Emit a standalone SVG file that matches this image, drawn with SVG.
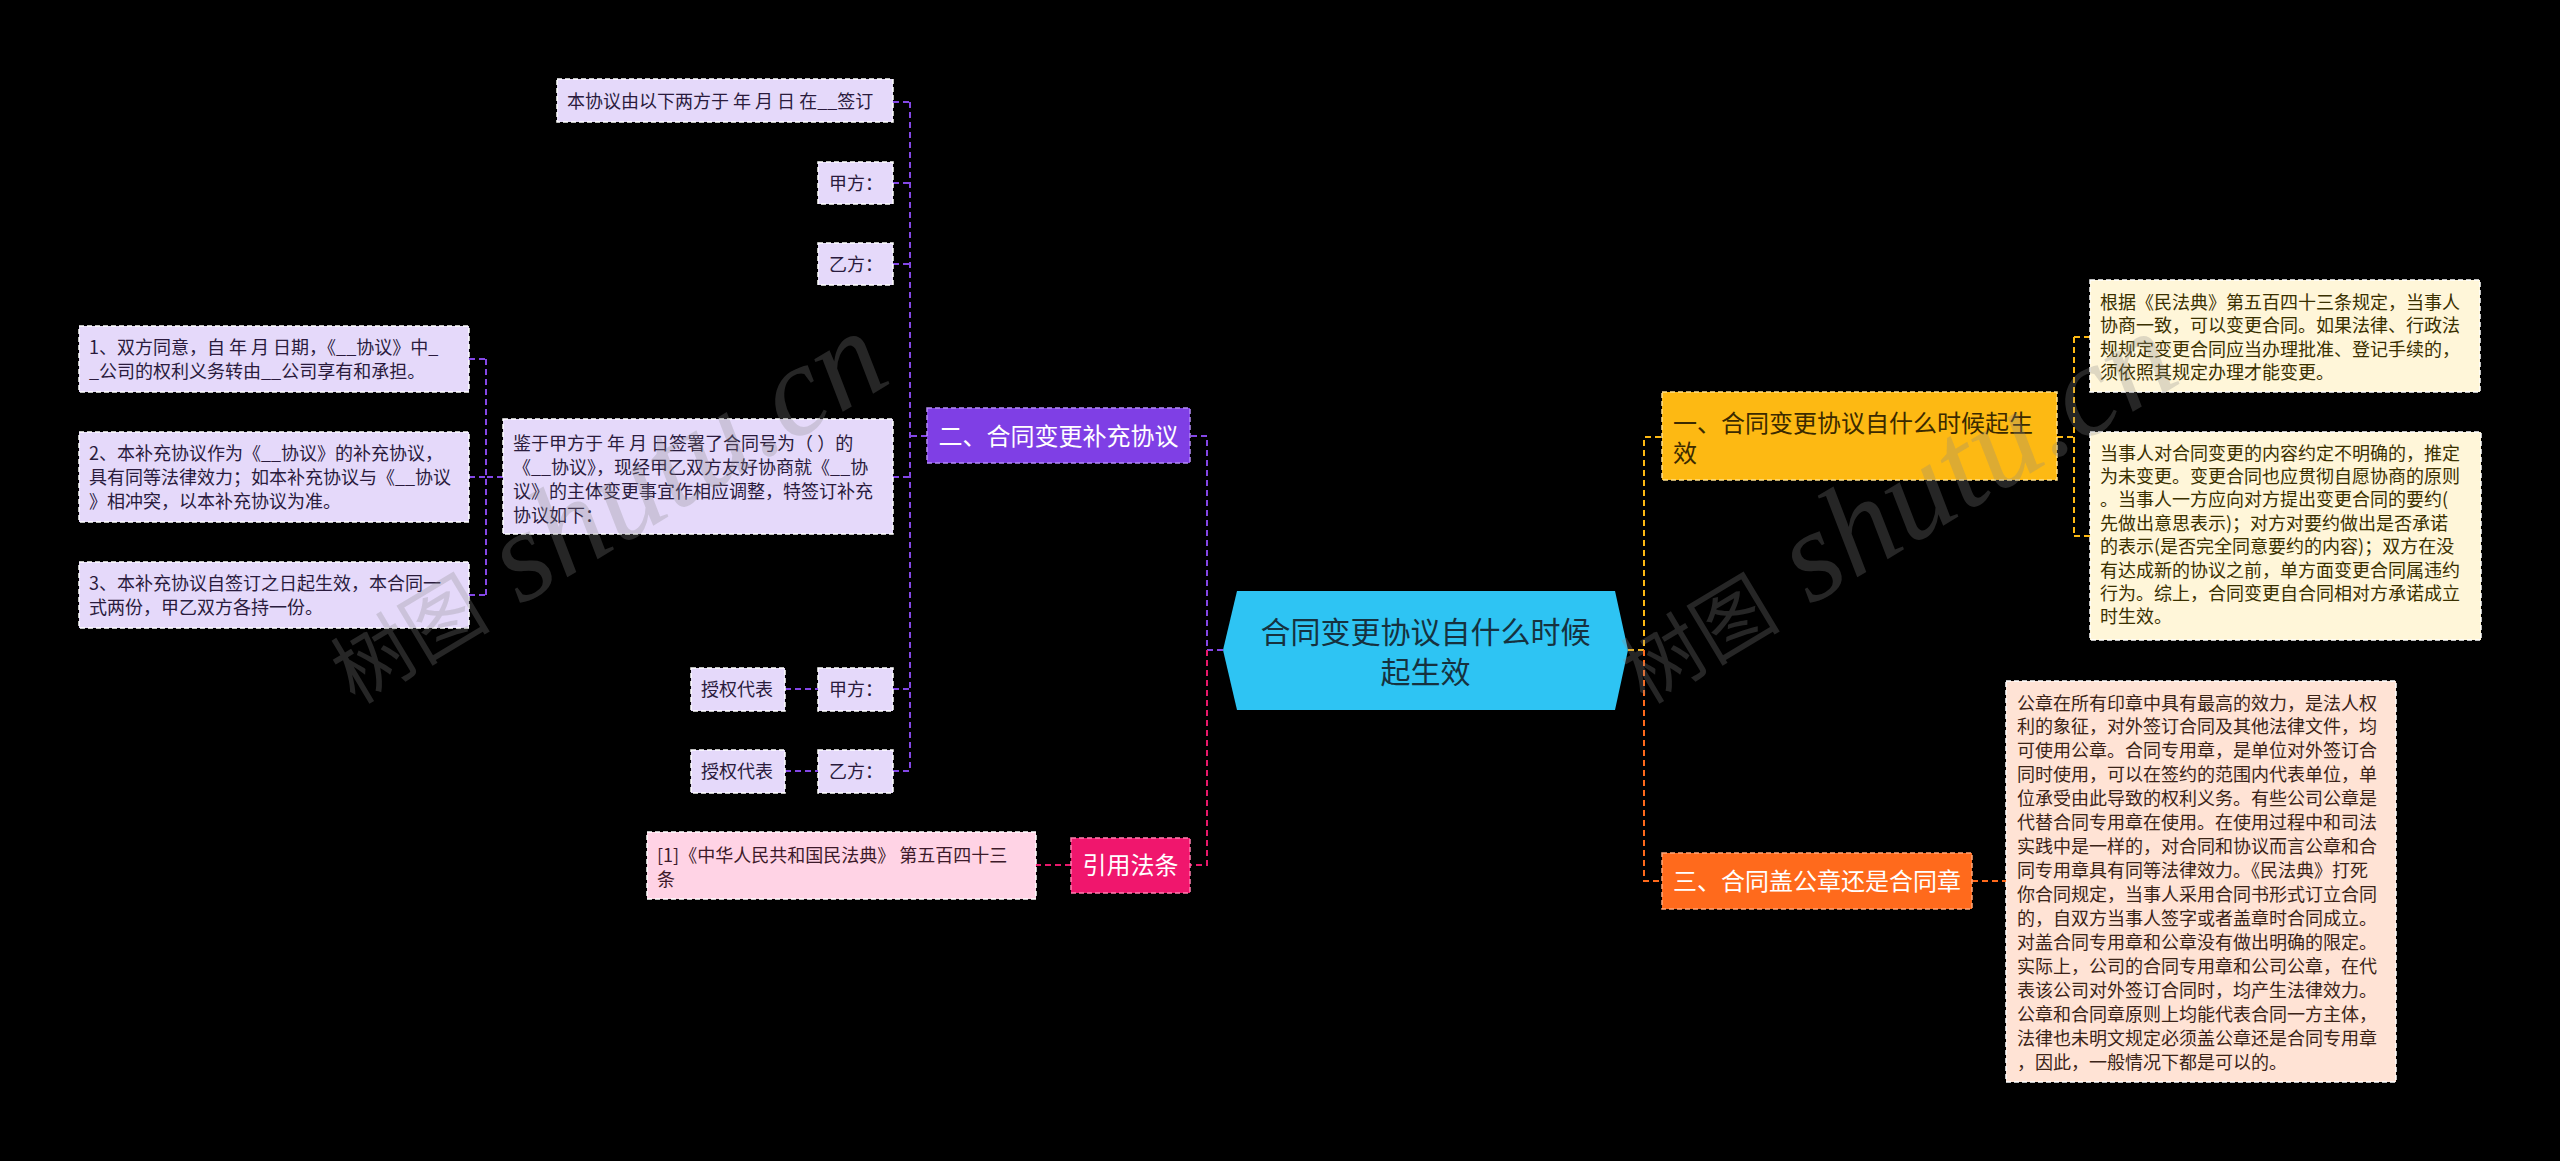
<svg xmlns="http://www.w3.org/2000/svg" width="2560" height="1161" viewBox="0 0 2560 1161">
<style>
text{font-family:"Noto Sans CJK SC","Noto Sans",sans-serif;}
.lp{fill:#E5D9FA;stroke:#ffffff;stroke-width:1.5;stroke-dasharray:5 3;}
.lpt{fill:#2a1b3d;font-size:18px;}
.cr{fill:#FFF6D9;stroke:#ffffff;stroke-width:1.5;stroke-dasharray:5 3;}
.crt{fill:#3a3000;font-size:18px;}
.pc{fill:#FFE3D5;stroke:#ffffff;stroke-width:1.5;stroke-dasharray:5 3;}
.pct{fill:#3b2418;font-size:18px;}
.pk{fill:#FFD3E5;stroke:#ffffff;stroke-width:1.5;stroke-dasharray:5 3;}
.pkt{fill:#3d1a2a;font-size:18px;}
.mt{font-size:24px;}
.c{fill:none;stroke-width:2;stroke-dasharray:6 4;}
.wm{font-family:"Liberation Serif","Noto Sans CJK SC",serif;font-style:italic;font-size:130px;fill:#8a8a8a;fill-opacity:0.28;}
.wmc{font-family:"Noto Sans CJK SC",sans-serif;font-style:normal;font-size:80px;}
</style>
<rect width="2560" height="1161" fill="#000"/>
<g id="connectors">
<path class="c" stroke="#8447E6" d="M1223,650H1207V436H1190"/>
<path class="c" stroke="#8447E6" d="M927,436H910M910,102V771M893,102H910M893,183H910M893,264H910M893,477H910M893,689H910M893,771H910"/>
<path class="c" stroke="#8447E6" d="M503,477H486M486,359V595M469,359H486M469,477H486M469,595H486"/>
<path class="c" stroke="#8447E6" d="M785,689H818M785,771H818"/>
<path class="c" stroke="#E8196B" d="M1207,650V865H1190M1071,865H1036"/>
<path class="c" stroke="#FDB913" d="M1628,650H1644V437H1662M2057,437H2074M2074,337V536M2074,337H2090M2074,536H2090"/>
<path class="c" stroke="#FF6A1C" d="M1644,650V881H1662M1972,881H2006"/>
</g>
<g id="root">
<polygon points="1223,650 1237,591 1615,591 1628,650 1615,710 1237,710" fill="#2EC4F3"/>
<text x="1425.5" y="643" font-size="30" fill="#16323F" text-anchor="middle">合同变更协议自什么时候</text>
<text x="1425.5" y="683" font-size="30" fill="#16323F" text-anchor="middle">起生效</text>
</g>
<g id="n2">
<rect x="927" y="408" width="263" height="55" fill="#7F3FE5" stroke="#b48cf5" stroke-width="1.5" stroke-dasharray="5 3"/>
<text class="mt" x="1058.5" y="445" fill="#ffffff" text-anchor="middle">二、合同变更补充协议</text>
</g>
<g id="n2a">
<rect class="lp" x="557" y="79" width="336" height="43"/>
<text class="lpt" x="567" y="107.5">本协议由以下两方于 年 月 日 在__签订</text>
</g>
<g id="n2b">
<rect class="lp" x="818" y="162" width="75" height="42"/>
<text class="lpt" x="829" y="189.5">甲方：</text>
</g>
<g id="n2c">
<rect class="lp" x="818" y="243" width="75" height="42"/>
<text class="lpt" x="829" y="270.5">乙方：</text>
</g>
<g id="n2d">
<rect class="lp" x="503" y="419" width="390" height="115"/>
<text class="lpt" x="513" y="449.5">鉴于甲方于 年 月 日签署了合同号为（ ）的</text>
<text class="lpt" x="513" y="473.5">《__协议》，现经甲乙双方友好协商就《__协</text>
<text class="lpt" x="513" y="497.5">议》的主体变更事宜作相应调整，特签订补充</text>
<text class="lpt" x="513" y="521.5">协议如下：</text>
</g>
<g id="n2d1">
<rect class="lp" x="79" y="326" width="390" height="66"/>
<text class="lpt" x="89" y="353.5">1、双方同意，自 年 月 日期，《__协议》中_</text>
<text class="lpt" x="89" y="377.5">_公司的权利义务转由__公司享有和承担。</text>
</g>
<g id="n2d2">
<rect class="lp" x="79" y="432" width="390" height="90"/>
<text class="lpt" x="89" y="459.5">2、本补充协议作为《__协议》的补充协议，</text>
<text class="lpt" x="89" y="483.5">具有同等法律效力；如本补充协议与《__协议</text>
<text class="lpt" x="89" y="507.5">》相冲突，以本补充协议为准。</text>
</g>
<g id="n2d3">
<rect class="lp" x="79" y="562" width="390" height="66"/>
<text class="lpt" x="89" y="589.5">3、本补充协议自签订之日起生效，本合同一</text>
<text class="lpt" x="89" y="613.5">式两份，甲乙双方各持一份。</text>
</g>
<g id="n2e">
<rect class="lp" x="818" y="668" width="75" height="43"/>
<text class="lpt" x="829" y="695.5">甲方：</text>
</g>
<g id="n2e1">
<rect class="lp" x="691" y="668" width="94" height="43"/>
<text class="lpt" x="701" y="695.5">授权代表</text>
</g>
<g id="n2f">
<rect class="lp" x="818" y="750" width="75" height="43"/>
<text class="lpt" x="829" y="778">乙方：</text>
</g>
<g id="n2f1">
<rect class="lp" x="691" y="750" width="94" height="43"/>
<text class="lpt" x="701" y="778">授权代表</text>
</g>
<g id="ncite">
<rect x="1071" y="838" width="119" height="55" fill="#F0166D" stroke="#ff7fb0" stroke-width="1.5" stroke-dasharray="5 3"/>
<text class="mt" x="1130.5" y="874" fill="#ffffff" text-anchor="middle">引用法条</text>
</g>
<g id="ncite1">
<rect class="pk" x="647" y="832" width="389" height="67"/>
<text class="pkt" x="657" y="861.5">[1]《中华人民共和国民法典》 第五百四十三</text>
<text class="pkt" x="657" y="885.5">条</text>
</g>
<g id="n1">
<rect x="1662" y="392" width="395" height="88" fill="#FDB913" stroke="#ffe08a" stroke-width="1.5" stroke-dasharray="5 3"/>
<text class="mt" x="1673" y="432" fill="#3b2a00">一、合同变更协议自什么时候起生</text>
<text class="mt" x="1673" y="462" fill="#3b2a00">效</text>
</g>
<g id="n1a">
<rect class="cr" x="2090" y="280" width="390" height="112"/>
<text class="crt" x="2100" y="308.5">根据《民法典》第五百四十三条规定，当事人</text>
<text class="crt" x="2100" y="332">协商一致，可以变更合同。如果法律、行政法</text>
<text class="crt" x="2100" y="355.5">规规定变更合同应当办理批准、登记手续的，</text>
<text class="crt" x="2100" y="379">须依照其规定办理才能变更。</text>
</g>
<g id="n1b">
<rect class="cr" x="2090" y="432" width="391" height="208"/>
<text class="crt" x="2100" y="459.5">当事人对合同变更的内容约定不明确的，推定</text>
<text class="crt" x="2100" y="482.9">为未变更。变更合同也应贯彻自愿协商的原则</text>
<text class="crt" x="2100" y="506.3">。当事人一方应向对方提出变更合同的要约(</text>
<text class="crt" x="2100" y="529.7">先做出意思表示)；对方对要约做出是否承诺</text>
<text class="crt" x="2100" y="553.1">的表示(是否完全同意要约的内容)；双方在没</text>
<text class="crt" x="2100" y="576.5">有达成新的协议之前，单方面变更合同属违约</text>
<text class="crt" x="2100" y="599.9">行为。综上，合同变更自合同相对方承诺成立</text>
<text class="crt" x="2100" y="623.3">时生效。</text>
</g>
<g id="n3">
<rect x="1662" y="853" width="310" height="56" fill="#FF6A1C" stroke="#ffa577" stroke-width="1.5" stroke-dasharray="5 3"/>
<text class="mt" x="1673" y="890" fill="#ffffff">三、合同盖公章还是合同章</text>
</g>
<g id="n3a">
<rect class="pc" x="2006" y="681" width="390" height="401"/>
<text class="pct" x="2017" y="709.5">公章在所有印章中具有最高的效力，是法人权</text>
<text class="pct" x="2017" y="733.4">利的象征，对外签订合同及其他法律文件，均</text>
<text class="pct" x="2017" y="757.4">可使用公章。合同专用章，是单位对外签订合</text>
<text class="pct" x="2017" y="781.3">同时使用，可以在签约的范围内代表单位，单</text>
<text class="pct" x="2017" y="805.2">位承受由此导致的权利义务。有些公司公章是</text>
<text class="pct" x="2017" y="829.2">代替合同专用章在使用。在使用过程中和司法</text>
<text class="pct" x="2017" y="853.1">实践中是一样的，对合同和协议而言公章和合</text>
<text class="pct" x="2017" y="877">同专用章具有同等法律效力。《民法典》打死</text>
<text class="pct" x="2017" y="901">你合同规定，当事人采用合同书形式订立合同</text>
<text class="pct" x="2017" y="924.9">的，自双方当事人签字或者盖章时合同成立。</text>
<text class="pct" x="2017" y="948.8">对盖合同专用章和公章没有做出明确的限定。</text>
<text class="pct" x="2017" y="972.7">实际上，公司的合同专用章和公司公章，在代</text>
<text class="pct" x="2017" y="996.7">表该公司对外签订合同时，均产生法律效力。</text>
<text class="pct" x="2017" y="1020.6">公章和合同章原则上均能代表合同一方主体，</text>
<text class="pct" x="2017" y="1044.5">法律也未明文规定必须盖公章还是合同专用章</text>
<text class="pct" x="2017" y="1068.5">，因此，一般情况下都是可以的。</text>
</g>
<g id="watermarks">
<text class="wm" transform="translate(355,705) rotate(-31)"><tspan class="wmc">树图</tspan> shutu.cn</text>
<text class="wm" transform="translate(1645,705) rotate(-31)"><tspan class="wmc">树图</tspan> shutu.cn</text>
</g>
</svg>
